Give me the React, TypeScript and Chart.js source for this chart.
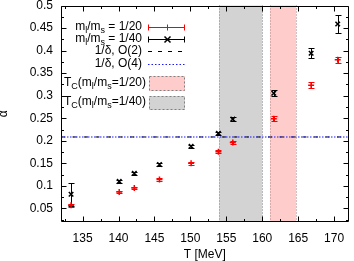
import React, { useEffect, useRef } from 'react';
import { Chart, registerables } from 'chart.js';

Chart.register(...registerables);

const FONT = "'Liberation Sans', Arial, Helvetica, sans-serif";

// Data
const temps = [133.4, 140.1, 142.2, 145.7, 150.1, 153.9, 155.9, 161.6, 166.8, 170.5];
const alpha20 = [0.057, 0.0866, 0.0954, 0.114, 0.150, 0.176, 0.196, 0.249, 0.323, 0.3796];
const err20 = [0.004, 0.003, 0.003, 0.003, 0.003, 0.004, 0.004, 0.0055, 0.0066, 0.006];
const alpha40 = [0.0815, 0.110, 0.128, 0.1476, 0.188, 0.2165, 0.248, 0.3055, 0.394, 0.459];
const err40 = [0.026, 0.003, 0.003, 0.003, 0.003, 0.004, 0.004, 0.0066, 0.011, 0.019];
const deltaO2 = 0.2085;
const deltaO4 = 0.2085;
const tc20 = [161.1, 164.7];
const tc40 = [154.0, 160.0];

const xRange = [132, 172];
const yRange = [0.02, 0.5];
const xTicks = [135, 140, 145, 150, 155, 160, 165, 170];
const xMinor = [132.5, 137.5, 142.5, 147.5, 152.5, 157.5, 162.5, 167.5];
const yTicks = [0.05, 0.1, 0.15, 0.2, 0.25, 0.3, 0.35, 0.4, 0.45, 0.5];
const yMinor = [0.025, 0.075, 0.125, 0.175, 0.225, 0.275, 0.325, 0.375, 0.425, 0.475];

const RED = '#ff0000';
const BLUE = '#1a1aff';
const PINK = '#ffcccc';
const GRAY = '#d3d3d3';

type Part = { t: string; sub?: boolean };
const legendRows: Part[][] = [
  [{ t: 'm' }, { t: 'l', sub: true }, { t: '/m' }, { t: 's', sub: true }, { t: ' = 1/20' }],
  [{ t: 'm' }, { t: 'l', sub: true }, { t: '/m' }, { t: 's', sub: true }, { t: ' = 1/40' }],
  [{ t: '1/δ, O(2)' }],
  [{ t: '1/δ, O(4)' }],
  [{ t: 'T' }, { t: 'C', sub: true }, { t: '(m' }, { t: 'l', sub: true }, { t: '/m' }, { t: 's', sub: true }, { t: '=1/20)' }],
  [{ t: 'T' }, { t: 'C', sub: true }, { t: '(m' }, { t: 'l', sub: true }, { t: '/m' }, { t: 's', sub: true }, { t: '=1/40)' }],
];

function richText(ctx: CanvasRenderingContext2D, parts: Part[], xRight: number, y: number) {
  const main = `12px ${FONT}`;
  const sub = `9px ${FONT}`;
  let w = 0;
  for (const p of parts) {
    ctx.font = p.sub ? sub : main;
    w += ctx.measureText(p.t).width;
  }
  let x = xRight - w;
  ctx.textAlign = 'left';
  ctx.textBaseline = 'middle';
  ctx.fillStyle = '#000';
  for (const p of parts) {
    ctx.font = p.sub ? sub : main;
    ctx.fillText(p.t, x, p.sub ? y + 4 : y);
    x += ctx.measureText(p.t).width;
  }
}

const bandsErrPlugin = {
  id: 'bandsErr',
  beforeDatasetsDraw(chart: any) {
    const { ctx, chartArea: a, scales } = chart;
    const x = scales.x;
    const y = scales.y;
    const band = (range: number[], fill: string, edge: string) => {
      const x0 = x.getPixelForValue(range[0]);
      const x1 = x.getPixelForValue(range[1]);
      ctx.save();
      ctx.fillStyle = fill;
      ctx.fillRect(x0, a.top, x1 - x0, a.bottom - a.top);
      ctx.strokeStyle = edge;
      ctx.lineWidth = 1;
      ctx.setLineDash([1, 2]);
      for (const px of [x0, x1]) {
        ctx.beginPath();
        ctx.moveTo(Math.round(px) + 0.5, a.top);
        ctx.lineTo(Math.round(px) + 0.5, a.bottom);
        ctx.stroke();
      }
      ctx.restore();
    };
    band(tc40, GRAY, '#808080');
    band(tc20, PINK, '#b08080');

    const errs = [
      { vals: alpha20, e: err20, color: RED, idx: 0 },
      { vals: alpha40, e: err40, color: '#000', idx: 1 },
    ];
    ctx.save();
    ctx.lineWidth = 1;
    for (const s of errs) {
      const meta = chart.getDatasetMeta(s.idx);
      ctx.strokeStyle = s.color;
      meta.data.forEach((pt: any, i: number) => {
        const px = Math.round(pt.x) + 0.5;
        const yt = Math.round(y.getPixelForValue(s.vals[i] + s.e[i])) + 0.5;
        const yb = Math.round(y.getPixelForValue(s.vals[i] - s.e[i])) + 0.5;
        ctx.beginPath();
        ctx.moveTo(px, yt);
        ctx.lineTo(px, yb);
        ctx.moveTo(px - 3, yt);
        ctx.lineTo(px + 3, yt);
        ctx.moveTo(px - 3, yb);
        ctx.lineTo(px + 3, yb);
        ctx.stroke();
      });
    }
    ctx.restore();
  },
};

const framePlugin = {
  id: 'frame',
  afterDraw(chart: any) {
    const { ctx, chartArea: a, scales } = chart;
    const x = scales.x;
    const y = scales.y;
    const L = Math.round(a.left) + 0.5;
    const R = Math.round(a.right) - 0.5;
    const T = Math.round(a.top) + 0.5;
    const B = Math.round(a.bottom) - 0.5;
    ctx.save();
    ctx.strokeStyle = '#000';
    ctx.lineWidth = 1;
    ctx.beginPath();
    ctx.rect(L, T, R - L, B - T);
    ctx.stroke();
    ctx.beginPath();
    const xt = (v: number, len: number) => {
      const p = Math.round(x.getPixelForValue(v)) + 0.5;
      ctx.moveTo(p, B);
      ctx.lineTo(p, B - len);
      ctx.moveTo(p, T);
      ctx.lineTo(p, T + len);
    };
    const yt = (v: number, len: number) => {
      const p = Math.round(y.getPixelForValue(v)) + 0.5;
      ctx.moveTo(L, p);
      ctx.lineTo(L + len, p);
      ctx.moveTo(R, p);
      ctx.lineTo(R - len, p);
    };
    xTicks.forEach((v) => xt(v, 5));
    xMinor.forEach((v) => xt(v, 2.5));
    yTicks.forEach((v) => yt(v, 5));
    yMinor.forEach((v) => yt(v, 2.5));
    ctx.stroke();

    // legend
    const sx0 = a.left + 87;
    const sx1 = a.left + 124;
    const rowsY = [27.5, 39.5, 51.5, 64.5];
    const textR = a.left + 81;
    const textR2 = a.left + 85;
    richText(ctx, legendRows[0], textR, rowsY[0] - 1);
    richText(ctx, legendRows[1], textR, rowsY[1] - 1);
    richText(ctx, legendRows[2], textR, rowsY[2] - 1);
    richText(ctx, legendRows[3], textR, rowsY[3] - 1);
    richText(ctx, legendRows[4], textR2, 82.5);
    richText(ctx, legendRows[5], textR2, 102);

    // row 1: red line with error bar caps and plus marker
    const mid = Math.round((sx0 + sx1) / 2) + 0.5;
    ctx.lineWidth = 1;
    ctx.strokeStyle = RED;
    ctx.beginPath();
    ctx.moveTo(sx0, rowsY[0]);
    ctx.lineTo(sx1, rowsY[0]);
    ctx.moveTo(Math.round(sx0) + 0.5, rowsY[0] - 3);
    ctx.lineTo(Math.round(sx0) + 0.5, rowsY[0] + 3);
    ctx.moveTo(Math.round(sx1) - 0.5, rowsY[0] - 3);
    ctx.lineTo(Math.round(sx1) - 0.5, rowsY[0] + 3);
    ctx.moveTo(mid, rowsY[0] - 3);
    ctx.lineTo(mid, rowsY[0] + 3);
    ctx.stroke();
    // row 2: black line with caps and x marker
    ctx.strokeStyle = '#000';
    ctx.beginPath();
    ctx.moveTo(sx0, rowsY[1]);
    ctx.lineTo(sx1, rowsY[1]);
    ctx.moveTo(Math.round(sx0) + 0.5, rowsY[1] - 3);
    ctx.lineTo(Math.round(sx0) + 0.5, rowsY[1] + 3);
    ctx.moveTo(Math.round(sx1) - 0.5, rowsY[1] - 3);
    ctx.lineTo(Math.round(sx1) - 0.5, rowsY[1] + 3);
    ctx.stroke();
    ctx.lineWidth = 1.5;
    ctx.beginPath();
    ctx.moveTo(mid - 3, rowsY[1] - 3);
    ctx.lineTo(mid + 3, rowsY[1] + 3);
    ctx.moveTo(mid - 3, rowsY[1] + 3);
    ctx.lineTo(mid + 3, rowsY[1] - 3);
    ctx.stroke();
    // row 3: black dashed
    ctx.lineWidth = 1;
    ctx.setLineDash([4, 6]);
    ctx.beginPath();
    ctx.moveTo(sx0, rowsY[2]);
    ctx.lineTo(sx1, rowsY[2]);
    ctx.stroke();
    // row 4: blue dotted
    ctx.strokeStyle = BLUE;
    ctx.setLineDash([1.5, 2]);
    ctx.beginPath();
    ctx.moveTo(sx0, rowsY[3]);
    ctx.lineTo(sx1, rowsY[3]);
    ctx.stroke();
    // rows 5-6: boxes
    const box = (top: number, bottom: number, fill: string) => {
      ctx.setLineDash([]);
      ctx.fillStyle = fill;
      ctx.fillRect(sx0 + 1, top, sx1 - sx0 - 1, bottom - top);
      ctx.strokeStyle = '#808080';
      ctx.setLineDash([2, 2]);
      ctx.strokeRect(Math.round(sx0 + 1) + 0.5, top + 0.5, Math.round(sx1 - sx0 - 2), bottom - top - 1);
    };
    box(76, 91, PINK);
    box(96, 110, GRAY);
    ctx.restore();
  },
};

export default function App() {
  const ref = useRef<HTMLCanvasElement>(null);
  useEffect(() => {
    if (!ref.current) return;
    const chart = new Chart(ref.current, {
      type: 'scatter',
      data: {
        datasets: [
          {
            label: 'ml/ms = 1/20',
            data: temps.map((t, i) => ({ x: t, y: alpha20[i] })),
            showLine: false,
            pointStyle: 'cross',
            pointRadius: 3,
            borderColor: RED,
            backgroundColor: RED,
            borderWidth: 1.5,
            order: 1,
          },
          {
            label: 'ml/ms = 1/40',
            data: temps.map((t, i) => ({ x: t, y: alpha40[i] })),
            showLine: false,
            pointStyle: 'crossRot',
            pointRadius: 3.2,
            borderColor: '#000',
            backgroundColor: '#000',
            borderWidth: 1.5,
            order: 0,
          },
          {
            label: '1/δ, O(2)',
            data: [
              { x: xRange[0], y: deltaO2 },
              { x: xRange[1], y: deltaO2 },
            ],
            showLine: true,
            borderColor: '#000',
            borderWidth: 1,
            borderDash: [4, 7.5],
            pointRadius: 0,
            order: 4,
          },
          {
            label: '1/δ, O(4)',
            data: [
              { x: xRange[0], y: deltaO4 },
              { x: xRange[1], y: deltaO4 },
            ],
            showLine: true,
            borderColor: BLUE,
            borderWidth: 1.2,
            borderDash: [1.5, 1.5],
            pointRadius: 0,
            order: 3,
          },
        ],
      },
      options: {
        animation: false,
        responsive: false,
        devicePixelRatio: 1,
        layout: { padding: { top: 5, right: 1, left: 0, bottom: 0 } },
        plugins: { legend: { display: false }, tooltip: { enabled: false } },
        scales: {
          x: {
            type: 'linear',
            min: xRange[0],
            max: xRange[1],
            afterBuildTicks: (s: any) => {
              s.ticks = xTicks.map((v) => ({ value: v }));
            },
            afterFit: (s: any) => {
              s.height = 39;
              s.paddingLeft = 0;
              s.paddingRight = 0;
            },
            grid: { display: false, drawTicks: false },
            border: { display: false },
            ticks: {
              padding: 9,
              color: '#000',
              maxRotation: 0,
              autoSkip: false,
              font: { size: 12, family: FONT },
              callback: (v: any) => String(v),
            },
            title: {
              display: true,
              text: 'T [MeV]',
              color: '#000',
              font: { size: 12, family: FONT, lineHeight: 1 },
              padding: { top: 0, bottom: 0 },
            },
          },
          y: {
            type: 'linear',
            min: yRange[0],
            max: yRange[1],
            afterBuildTicks: (s: any) => {
              s.ticks = yTicks.map((v) => ({ value: v }));
            },
            afterFit: (s: any) => {
              s.width = 61;
              s.paddingTop = 0;
              s.paddingBottom = 0;
            },
            grid: { display: false, drawTicks: false },
            border: { display: false },
            ticks: {
              padding: 8,
              color: '#000',
              autoSkip: false,
              font: { size: 12, family: FONT },
              callback: (v: any) => String(v),
            },
            title: {
              display: true,
              text: 'α',
              color: '#000',
              font: { size: 12, family: FONT, lineHeight: 1 },
              padding: { top: -2, bottom: 0 },
            },
          },
        },
      },
      plugins: [bandsErrPlugin, framePlugin],
    } as any);
    return () => chart.destroy();
  }, []);
  return (
    <div style={{ position: 'fixed', left: 0, top: 0, width: 354, height: 261, background: '#fff' }}>
      <canvas ref={ref} width={354} height={261} style={{ display: 'block' }} />
    </div>
  );
}
